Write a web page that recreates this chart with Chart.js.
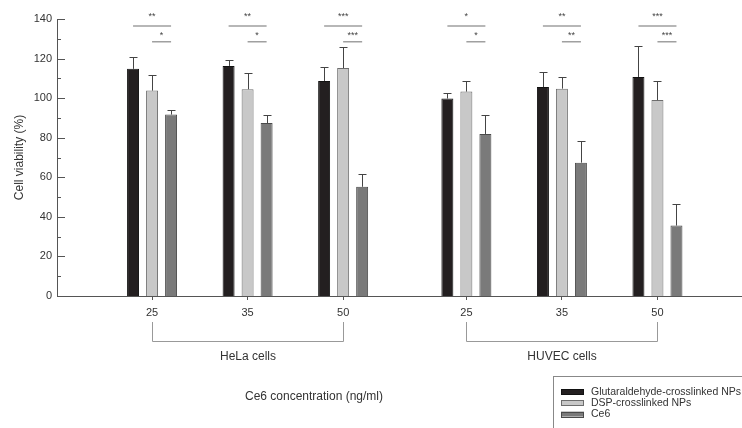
<!DOCTYPE html>
<html>
<head>
<meta charset="utf-8">
<script src="https://cdn.jsdelivr.net/npm/chart.js@4.4.1/dist/chart.umd.min.js"></script>
<style>
    html, body { margin: 0; padding: 0; background: #fff; }
    #wrap { width: 742px; height: 428px; }
</style>
</head>
<body>
<div id="wrap"><canvas id="viability" width="742" height="428"></canvas></div>
<script>
// ---- data ----
const concLabels = ['25', '35', '50', '25', '35', '50'];
const cellLines = ['HeLa cells', 'HUVEC cells'];
const seriesNames = ['Glutaraldehyde-crosslinked NPs', 'DSP-crosslinked NPs', 'Ce6'];

const glutMean = [114.8, 116.3, 108.7, 99.8, 105.6, 110.7];
const glutSd = [6.0, 3.2, 6.9, 2.8, 7.6, 15.8];
const dspMean = [103.8, 104.5, 115.2, 103.3, 104.8, 99.0];
const dspSd = [7.7, 8.0, 10.8, 5.3, 5.7, 9.8];
const ce6Mean = [91.7, 87.4, 55.2, 81.9, 67.4, 35.6];
const ce6Sd = [2.1, 4.1, 6.6, 9.6, 10.8, 10.9];

// significance marks (NPs vs free Ce6)
const sigGlut = ['**', '**', '***', '*', '**', '***'];
const sigDsp = ['*', '*', '***', '*', '**', '***'];

const yTicks = [0, 20, 40, 60, 80, 100, 120, 140];

// ---- layout ----
const groupGap = 0.29;                       // extra space between the two cell lines
const xAt = (i) => i + (i >= 3 ? groupGap : 0);
const bracketHi = 136.4, bracketLo = 128.5;  // y levels of significance lines
const fontFamily = '"Liberation Sans", Arial, sans-serif';
const textColor = '#333';
const axisColor = '#555';

const means = [glutMean, dspMean, ce6Mean];
const sds = [glutSd, dspSd, ce6Sd];
const fills = ['#231f20', '#c8c8c8', '#7a7a7a'];
const edges = ['#111111', '#6e6e6e', '#4a4a4a'];

const datasets = seriesNames.map((name, d) => ({
    label: name,
    data: means[d].map((v, i) => ({x: xAt(i), y: v})),
    backgroundColor: fills[d],
    borderColor: edges[d],
    borderWidth: 1
}));

const extras = {
    id: 'extras',
    afterDatasetsDraw(chart) {
        const ctx = chart.ctx;
        const yS = chart.scales.y;
        ctx.save();
        // error bars (upper only)
        ctx.strokeStyle = '#444';
        ctx.lineWidth = 1;
        means.forEach((arr, d) => {
            const meta = chart.getDatasetMeta(d);
            arr.forEach((v, i) => {
                const bar = meta.data[i];
                const x = Math.round(bar.x) + 0.5;
                const top = Math.round(yS.getPixelForValue(v + sds[d][i])) + 0.5;
                ctx.beginPath();
                ctx.moveTo(x, bar.y);
                ctx.lineTo(x, top);
                ctx.moveTo(x - 4, top);
                ctx.lineTo(x + 4, top);
                ctx.stroke();
            });
        });
        // significance brackets
        const m0 = chart.getDatasetMeta(0), m1 = chart.getDatasetMeta(1), m2 = chart.getDatasetMeta(2);
        const hi = yS.getPixelForValue(bracketHi), lo = yS.getPixelForValue(bracketLo);
        ctx.font = '9px ' + fontFamily;
        ctx.textAlign = 'center';
        ctx.textBaseline = 'alphabetic';
        concLabels.forEach((_, i) => {
            const xg = m0.data[i].x, xd = m1.data[i].x, xc = m2.data[i].x;
            ctx.strokeStyle = '#a0a0a0';
            ctx.lineWidth = 1.5;
            ctx.beginPath();
            ctx.moveTo(xg, hi);
            ctx.lineTo(xc, hi);
            ctx.moveTo(xd, lo);
            ctx.lineTo(xc, lo);
            ctx.stroke();
            ctx.fillStyle = '#444';
            ctx.fillText(sigGlut[i], (xg + xc) / 2, hi - 7.5);
            ctx.fillText(sigDsp[i], (xd + xc) / 2, lo - 4);
        });
        ctx.restore();
    },
    afterDraw(chart) {
        const ctx = chart.ctx;
        const yS = chart.scales.y, xS = chart.scales.x;
        const left = chart.chartArea.left;
        ctx.save();
        // inward y ticks, minor every 10
        ctx.strokeStyle = axisColor;
        ctx.lineWidth = 1;
        for (let v = 0; v <= 140; v += 10) {
            const y = Math.round(yS.getPixelForValue(v)) + 0.5;
            ctx.beginPath();
            ctx.moveTo(left, y);
            ctx.lineTo(left + (v % 20 === 0 ? 8 : 4), y);
            ctx.stroke();
        }
        // cell line brackets under the axis
        ctx.strokeStyle = '#999';
        ctx.font = '12px ' + fontFamily;
        ctx.fillStyle = textColor;
        ctx.textAlign = 'center';
        ctx.textBaseline = 'middle';
        cellLines.forEach((name, g) => {
            const x1 = Math.round(xS.getPixelForValue(xAt(g * 3))) + 0.5;
            const x2 = Math.round(xS.getPixelForValue(xAt(g * 3 + 2))) + 0.5;
            ctx.beginPath();
            ctx.moveTo(x1, 322);
            ctx.lineTo(x1, 341.5);
            ctx.lineTo(x2, 341.5);
            ctx.lineTo(x2, 322);
            ctx.stroke();
            ctx.fillText(name, (x1 + x2) / 2, 357);
        });
        ctx.fillText('Ce6 concentration (ng/ml)', 314, 397);
        // legend box
        ctx.strokeStyle = '#888';
        ctx.strokeRect(553.5, 376.5, 200, 60);
        ctx.font = '10.5px ' + fontFamily;
        ctx.textAlign = 'left';
        chart.data.datasets.forEach((ds, d) => {
            const y = 389 + d * 11.3;
            ctx.fillStyle = ds.backgroundColor;
            ctx.fillRect(561, y, 23, 5);
            ctx.strokeStyle = ds.borderColor;
            ctx.strokeRect(561.5, Math.round(y) + 0.5, 22, 5);
            ctx.fillStyle = textColor;
            ctx.fillText(ds.label, 591, y + 3);
        });
        ctx.restore();
    }
};

new Chart(document.getElementById('viability'), {
    type: 'bar',
    data: {datasets: datasets},
    options: {
        responsive: false,
        animation: false,
        layout: {padding: {top: 19, right: 0, left: 0, bottom: 0}},
        datasets: {bar: {categoryPercentage: 0.597, barPercentage: 0.63}},
        plugins: {legend: {display: false}, tooltip: {enabled: false}},
        scales: {
            x: {
                type: 'linear',
                offset: false,
                min: -0.995,
                max: 6.175,
                afterFit: (s) => { s.height = 132; },
                afterBuildTicks: (s) => { s.ticks = concLabels.map((_, i) => ({value: xAt(i)})); },
                grid: {offset: false, drawOnChartArea: false, tickLength: 4, color: axisColor},
                border: {color: axisColor},
                ticks: {
                    autoSkip: false, maxRotation: 0, padding: 6, color: textColor,
                    font: {family: fontFamily, size: 11},
                    callback: (v, i) => concLabels[i]
                }
            },
            y: {
                min: 0,
                max: 140,
                afterFit: (s) => { s.width = 57; },
                afterBuildTicks: (s) => { s.ticks = yTicks.map((v) => ({value: v})); },
                grid: {display: false, drawTicks: false, tickLength: 0},
                border: {display: true, color: axisColor},
                ticks: {padding: 5, color: textColor, font: {family: fontFamily, size: 11}},
                title: {
                    display: true, text: 'Cell viability (%)', color: textColor,
                    font: {family: fontFamily, size: 12}, padding: {top: 12, bottom: 0}
                }
            }
        }
    },
    plugins: [extras]
});
</script>
</body>
</html>
